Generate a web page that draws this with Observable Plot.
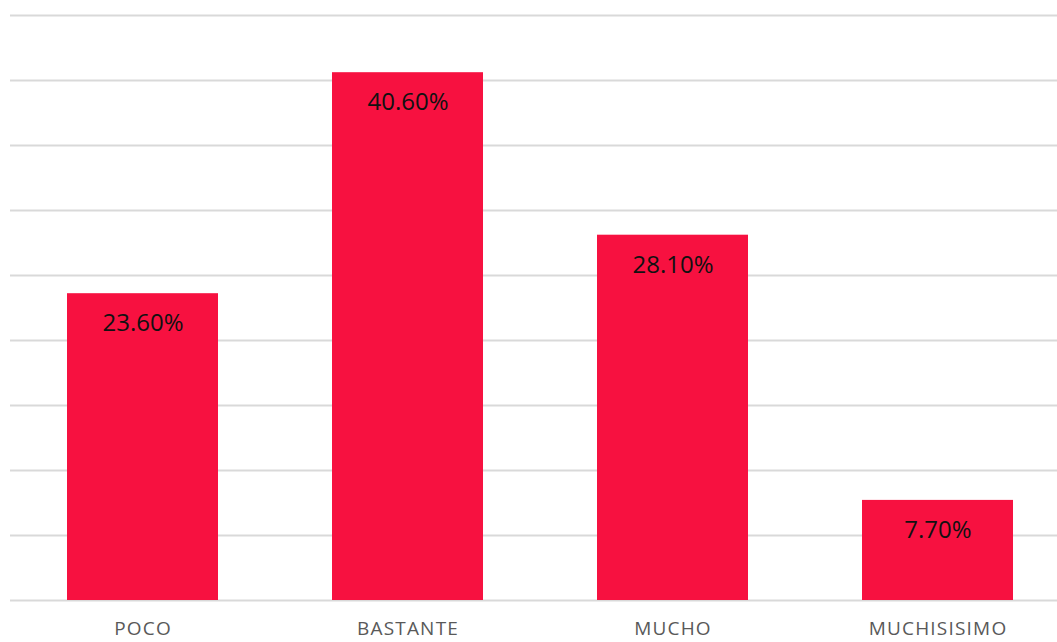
<!DOCTYPE html>
<html>
<head>
<meta charset="utf-8">
<script src="https://cdn.jsdelivr.net/npm/d3@7"></script>
<script src="https://cdn.jsdelivr.net/npm/@observablehq/plot@0.6"></script>
<style>
  html, body { margin: 0; padding: 0; background: #fff; }
  #chart svg { display: block; overflow: visible; }
</style>
</head>
<body>
<div id="chart"></div>
<script>
const categories = ["POCO", "BASTANTE", "MUCHO", "MUCHISISIMO"];
const values = [23.6, 40.6, 28.1, 7.7];
const valueLabels = ["23.60%", "40.60%", "28.10%", "7.70%"];
const gridTicks = [0, 5, 10, 15, 20, 25, 30, 35, 40, 45];

const data = categories.map((c, i) => ({category: c, value: values[i], label: valueLabels[i]}));

const chart = Plot.plot({
  width: 1057,
  height: 642,
  marginLeft: 10,
  marginRight: 0,
  marginTop: 15,
  marginBottom: 42,
  style: {fontFamily: "'Open Sans', sans-serif", background: "#fff"},
  x: {domain: categories, range: [10, 1070], paddingInner: 0.43, paddingOuter: 0.215, label: null},
  y: {domain: [0, 45], axis: null},
  marks: [
    Plot.ruleY(gridTicks, {stroke: "#d9d9d9", strokeWidth: 2}),
    Plot.barY(data, {x: "category", y: "value", fill: "#F71140"}),
    Plot.text(data, {x: "category", y: "value", text: "label", dy: 30, lineAnchor: "middle", fill: "#111", fontSize: 24}),
    Plot.axisX({tickSize: 0, tickPadding: 21, fontSize: 19, fill: "#595959"})
  ]
});
chart.querySelectorAll("[aria-label='x-axis tick label'] text").forEach(t => t.setAttribute("letter-spacing", "1.2"));
document.getElementById("chart").appendChild(chart);
</script>
</body>
</html>
